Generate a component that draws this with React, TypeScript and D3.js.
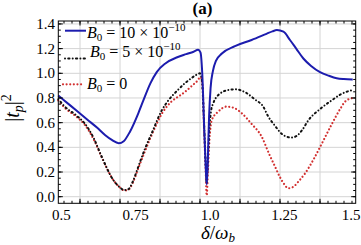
import React from "react";
import * as d3 from "d3";

// ---- data ----
const blueX = [0.5, 0.52, 0.56, 0.6, 0.63, 0.657, 0.68, 0.703, 0.72, 0.741, 0.769, 0.786, 0.81, 0.831, 0.86, 0.9, 0.93, 0.955, 0.97, 0.978, 0.984, 0.99, 0.995, 0.999, 1.003, 1.007, 1.012, 1.02, 1.03, 1.05, 1.094, 1.15, 1.2, 1.22, 1.235, 1.257, 1.279, 1.3, 1.324, 1.35, 1.38, 1.41, 1.436, 1.46, 1.49];
const blueY = [0.82, 0.78, 0.7, 0.62, 0.56, 0.5, 0.46, 0.433, 0.45, 0.527, 0.676, 0.78, 0.92, 1.01, 1.08, 1.13, 1.155, 1.175, 1.19, 1.17, 1.0, 0.6, 0.28, 0.1, 0.32, 0.65, 0.88, 1.02, 1.1, 1.16, 1.22, 1.27, 1.32, 1.34, 1.35, 1.337, 1.27, 1.2, 1.12, 1.06, 1.01, 0.98, 0.96, 0.953, 0.95];

const blackX = [0.5, 0.522, 0.56, 0.59, 0.62, 0.646, 0.685, 0.705, 0.722, 0.735, 0.75, 0.769, 0.79, 0.814, 0.848, 0.87, 0.9, 0.926, 0.95, 0.966, 0.976, 0.983, 0.99, 0.995, 0.999, 1.003, 1.008, 1.014, 1.021, 1.038, 1.072, 1.095, 1.133, 1.16, 1.189, 1.206, 1.23, 1.251, 1.27, 1.285, 1.3, 1.32, 1.341, 1.38, 1.419, 1.45, 1.49];
const blackY = [0.79, 0.73, 0.66, 0.59, 0.47, 0.324, 0.135, 0.08, 0.054, 0.06, 0.12, 0.243, 0.38, 0.514, 0.7, 0.78, 0.86, 0.92, 0.965, 0.99, 1.0, 0.94, 0.6, 0.3, 0.11, 0.3, 0.55, 0.7, 0.757, 0.824, 0.865, 0.87, 0.84, 0.79, 0.73, 0.65, 0.57, 0.51, 0.485, 0.48, 0.49, 0.54, 0.62, 0.71, 0.78, 0.83, 0.865];

const redX = [0.5, 0.522, 0.56, 0.59, 0.62, 0.646, 0.685, 0.705, 0.722, 0.735, 0.75, 0.769, 0.79, 0.814, 0.85, 0.88, 0.909, 0.926, 0.95, 0.968, 0.978, 0.985, 0.99, 0.995, 0.999, 1.003, 1.008, 1.016, 1.038, 1.066, 1.09, 1.117, 1.15, 1.184, 1.21, 1.229, 1.245, 1.26, 1.273, 1.29, 1.31, 1.33, 1.36, 1.386, 1.42, 1.45, 1.464, 1.49];
const redY = [0.78, 0.72, 0.65, 0.58, 0.46, 0.32, 0.135, 0.08, 0.05, 0.055, 0.11, 0.23, 0.36, 0.5, 0.68, 0.77, 0.82, 0.85, 0.9, 0.94, 0.97, 0.9, 0.55, 0.25, 0.01, 0.2, 0.45, 0.62, 0.69, 0.73, 0.72, 0.676, 0.59, 0.486, 0.34, 0.243, 0.16, 0.1, 0.068, 0.08, 0.13, 0.19, 0.31, 0.43, 0.59, 0.72, 0.77, 0.8];

const xTickLabels = [0.5, 0.75, 1.0, 1.25, 1.5];
const xTickText = ["0.5", "0.75", "1.0", "1.25", "1.5"];
const yTickLabels = [0.0, 0.2, 0.4, 0.6, 0.8, 1.0, 1.2, 1.4];
const xGrid = [0.573, 0.7075, 0.842, 0.9765, 1.111, 1.2455, 1.38];

const W = 361;
const H = 245;
const L = 58.3, R = 355.7, T = 21, B = 203.3;

export default function App() {
  const xs = d3.scaleLinear().domain([0.5, 1.5]).range([L, R]);
  const ys = d3.scaleLinear().domain([0, 1.4]).range([196.7, 196.7 - 1.4 * 123.4]);

  const line = (X: number[], Y: number[]) =>
    d3
      .line<number>()
      .x((_, i) => xs(X[i]))
      .y((_, i) => ys(Y[i]))
      .curve(d3.curveMonotoneX)(X) || "";

  const gstep = xGrid[1] - xGrid[0];
  const xMinor: number[] = [];
  for (let g = xGrid[0] - gstep; g < 1.5; g += gstep / 5) {
    if (g > 0.5 && g < 1.5) xMinor.push(g);
  }
  const yMinor = d3.range(0, 1.42, 0.05);

  const blue = "#1c1cae";
  const red = "#d23030";
  const black = "#111";
  const serif = "'Liberation Serif', 'Times New Roman', serif";
  const blackDash = "0.01 3.2 1.3 3.2";

  return (
    <svg width={W} height={H} style={{ position: "absolute", left: 0, top: 0, background: "#fff" }} fontFamily={serif}>
      <rect x={0} y={0} width={W} height={H} fill="#fff" />
      {/* grid */}
      {xGrid.map((g, i) => (
        <line key={"gx" + i} x1={xs(g)} x2={xs(g)} y1={T} y2={B} stroke="#d4d4d4" strokeWidth={1} />
      ))}
      {yTickLabels.map((v, i) => (
        <line key={"gy" + i} x1={L} x2={R} y1={ys(v)} y2={ys(v)} stroke="#d4d4d4" strokeWidth={1} />
      ))}
      {/* curves */}
      <path d={line(redX, redY)} fill="none" stroke={red} strokeWidth={2.2} strokeDasharray="0.01 3.6" strokeLinecap="round" />
      <path d={line(blackX, blackY)} fill="none" stroke={black} strokeWidth={2} strokeDasharray={blackDash} strokeLinecap="round" />
      <path d={line(blueX, blueY)} fill="none" stroke={blue} strokeWidth={2} />
      {/* frame */}
      <rect x={L} y={T} width={R - L} height={B - T} fill="none" stroke="#000" strokeWidth={1} />
      {/* ticks */}
      {xGrid.map((g, i) => (
        <g key={"tx" + i}>
          <line x1={xs(g)} x2={xs(g)} y1={B} y2={B - 4.5} stroke="#000" />
          <line x1={xs(g)} x2={xs(g)} y1={T} y2={T + 4.5} stroke="#000" />
        </g>
      ))}
      {xMinor.map((g, i) => (
        <g key={"mx" + i}>
          <line x1={xs(g)} x2={xs(g)} y1={B} y2={B - 2.5} stroke="#000" />
          <line x1={xs(g)} x2={xs(g)} y1={T} y2={T + 2.5} stroke="#000" />
        </g>
      ))}
      {yTickLabels.map((v, i) => (
        <g key={"ty" + i}>
          <line x1={L} x2={L + 4.5} y1={ys(v)} y2={ys(v)} stroke="#000" />
          <line x1={R} x2={R - 4.5} y1={ys(v)} y2={ys(v)} stroke="#000" />
        </g>
      ))}
      {yMinor.map((v, i) => (
        <g key={"my" + i}>
          <line x1={L} x2={L + 2.5} y1={ys(v)} y2={ys(v)} stroke="#000" />
          <line x1={R} x2={R - 2.5} y1={ys(v)} y2={ys(v)} stroke="#000" />
        </g>
      ))}
      {/* tick labels */}
      {xTickLabels.map((v, i) => (
        <text key={"lx" + i} x={Math.min(xs(v) + 3, 351)} y={220} fontSize={15} textAnchor="middle" fill="#000">
          {xTickText[i]}
        </text>
      ))}
      {yTickLabels.map((v, i) => (
        <text key={"ly" + i} x={55} y={ys(v) + 5} fontSize={15} textAnchor="end" fill="#000">
          {v.toFixed(1)}
        </text>
      ))}
      {/* axis labels */}
      <text x={218} y={238.5} fontSize={19} textAnchor="middle" fill="#000">
        <tspan fontStyle="italic">δ</tspan>
        <tspan>/</tspan>
        <tspan fontStyle="italic">ω</tspan>
        <tspan fontStyle="italic" fontSize={13} dy={3.5}>b</tspan>
      </text>
      <text transform="translate(19,108) rotate(-90)" fontSize={20} textAnchor="middle" fill="#000">
        <tspan>|</tspan>
        <tspan fontStyle="italic">t</tspan>
        <tspan fontStyle="italic" fontSize={14} dy={4}>p</tspan>
        <tspan dy={-4}>|</tspan>
        <tspan fontSize={14} dy={-8}>2</tspan>
      </text>
      <text x={202.5} y={13.5} fontSize={17} fontWeight="bold" textAnchor="middle" fill="#000">(a)</text>
      {/* legend */}
      <line x1={65} x2={86} y1={30.7} y2={30.7} stroke={blue} strokeWidth={2} />
      <text x={87} y={38} fontSize={16} fill="#000">
        <tspan fontStyle="italic">B</tspan>
        <tspan fontSize={11} dy={3}>0</tspan>
        <tspan dy={-3}> = 10 × 10</tspan>
        <tspan fontSize={11} dy={-7}>−10</tspan>
      </text>
      <line x1={65} x2={88} y1={58.5} y2={58.5} stroke={black} strokeWidth={2} strokeDasharray={blackDash} strokeLinecap="round" />
      <text x={90} y={57.3} fontSize={16} fill="#000">
        <tspan fontStyle="italic">B</tspan>
        <tspan fontSize={11} dy={3}>0</tspan>
        <tspan dy={-3}> = 5 × 10</tspan>
        <tspan fontSize={11} dy={-7}>−10</tspan>
      </text>
      <line x1={63} x2={82} y1={84.3} y2={84.3} stroke={red} strokeWidth={2.2} strokeDasharray="0.01 3.6" strokeLinecap="round" />
      <text x={87} y={89} fontSize={16} fill="#000">
        <tspan fontStyle="italic">B</tspan>
        <tspan fontSize={11} dy={3}>0</tspan>
        <tspan dy={-3}> = 0</tspan>
      </text>
    </svg>
  );
}
